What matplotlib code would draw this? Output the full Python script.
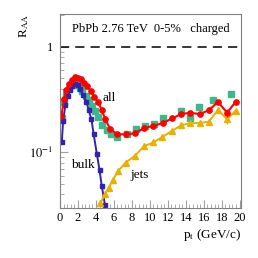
import numpy as np
import matplotlib
matplotlib.use("Agg")
import matplotlib.pyplot as plt
from matplotlib.ticker import FixedLocator, MultipleLocator, NullFormatter

plt.rcParams['font.family'] = ['Liberation Serif', 'DejaVu Serif']
plt.rcParams['mathtext.fontset'] = 'stix'

# all charged (red)
all_pt = [0.15, 0.45, 0.7, 1.0, 1.3, 1.65, 1.95, 2.3, 2.65, 3.05, 3.45, 3.8, 4.25,
          4.65, 5.05, 5.6, 6.4, 7.35, 8.3, 9.4, 10.4, 11.5, 12.5, 13.5, 14.5,
          15.55, 16.55, 17.6, 18.6, 19.55]
all_raa = [0.22, 0.32, 0.39, 0.44, 0.48, 0.52, 0.51, 0.49, 0.45, 0.42, 0.38, 0.335, 0.30,
           0.25, 0.205, 0.165, 0.148, 0.148, 0.151, 0.17, 0.178, 0.19, 0.21, 0.23, 0.237,
           0.23, 0.25, 0.30, 0.237, 0.30]

# bulk (blue)
bulk_pt = [0.2, 0.35, 0.6, 0.85, 1.1, 1.35, 1.65, 1.95, 2.2, 2.55, 2.95, 3.2, 3.5,
           3.75, 4.1, 4.4, 4.65, 5.0]
bulk_raa = [0.125, 0.2, 0.28, 0.34, 0.385, 0.42, 0.445, 0.43, 0.395, 0.35, 0.30, 0.25,
            0.205, 0.148, 0.097, 0.068, 0.048, 0.032]

# jets (yellow)
jets_pt = [4.5, 5.0, 5.4, 5.9, 6.5, 7.3, 8.3, 9.4, 10.4, 11.4, 12.5, 13.5, 14.5,
           15.55, 16.55, 17.6, 18.6, 19.55]
jets_raa = [0.033, 0.040, 0.046, 0.055, 0.067, 0.08, 0.092, 0.115, 0.124, 0.14, 0.16,
            0.181, 0.188, 0.19, 0.195, 0.252, 0.205, 0.248]

# data (green squares)
data_pt = [0.2, 0.45, 0.7, 1.0, 1.3, 1.6, 1.9, 2.2, 2.5, 2.85, 3.2, 3.55, 3.9, 4.2,
           4.65, 5.2, 5.7, 6.4, 7.5, 8.5, 9.5, 10.5, 11.5, 13.5, 14.5, 15.5, 17.0, 19.0]
data_raa = [0.21, 0.30, 0.35, 0.40, 0.43, 0.44, 0.43, 0.41, 0.38, 0.345, 0.31, 0.275,
            0.245, 0.217, 0.18, 0.163, 0.148, 0.141, 0.15, 0.165, 0.179, 0.187, 0.21,
            0.248, 0.213, 0.27, 0.313, 0.354]

fig = plt.figure(figsize=(2.58, 2.58), dpi=100)
ax = fig.add_axes([60 / 258, 1 - 208 / 258, 181 / 258, 194 / 258])

ax.axhline(1.0, color='black', lw=1.1, ls=(0, (6, 4)))

ax.plot(data_pt, data_raa, ls='none', marker='s', ms=4, color='#3cb88a', mec='#3cb88a')
ax.plot(bulk_pt, bulk_raa, '-s', color='#3322b0', lw=1.4, ms=3.4)
ax.plot(jets_pt, jets_raa, '-^', color='#e8b000', lw=1.4, ms=3.8)
ax.plot(all_pt, all_raa, '-o', color='#ff0000', lw=1.5, ms=3.8)
ax.errorbar([18.6], [0.205], yerr=[0.02], color='#e8b000', lw=1, capsize=0)
ax.errorbar([18.6], [0.237], yerr=[0.02], color='#ff0000', lw=1, capsize=0)

ax.set_yscale('log')
ax.set_xlim(0, 20.15)
ax.set_ylim(0.0297, 2.04)

ax.xaxis.set_major_locator(MultipleLocator(2))
ax.xaxis.set_minor_locator(MultipleLocator(0.4))
ax.yaxis.set_major_locator(FixedLocator([0.1, 1.0]))
ax.yaxis.set_minor_locator(FixedLocator([0.03, 0.04, 0.05, 0.06, 0.07, 0.08, 0.09,
                                         0.2, 0.3, 0.4, 0.5, 0.6, 0.7, 0.8, 0.9, 2.0]))
ax.yaxis.set_minor_formatter(NullFormatter())
ax.set_yticklabels([r'$10^{-1}$', '1'])

for s in ax.spines.values():
    s.set_color('#808080')
ax.tick_params(which='both', direction='in', color='#a0a0a0', labelsize=9)
ax.tick_params(axis='x', pad=3)
ax.tick_params(axis='y', pad=5)
ax.tick_params(which='major', length=6)
ax.tick_params(which='minor', length=3)

ax.text(0.5, 0.955, 'PbPb 2.76 TeV  0-5%   charged', transform=ax.transAxes,
        ha='center', va='top', fontsize=9)
ax.text(5.5, 0.33, 'all', fontsize=9.5, ha='center', va='center')
ax.text(2.5, 0.076, 'bulk', fontsize=9.5, ha='center', va='center')
ax.text(8.9, 0.061, 'jets', fontsize=9.5, ha='center', va='center')

fig.text(24 / 258, 1 - 14 / 258, r'R$_{\mathrm{AA}}$', rotation=90, ha='center', va='top',
         fontsize=9.5)
fig.text(241 / 258, 1 - 235 / 258, r'p$_{\mathrm{t}}$ (GeV/c)', ha='right', va='center',
         fontsize=9.5)

fig.savefig('out.png', dpi=100)
